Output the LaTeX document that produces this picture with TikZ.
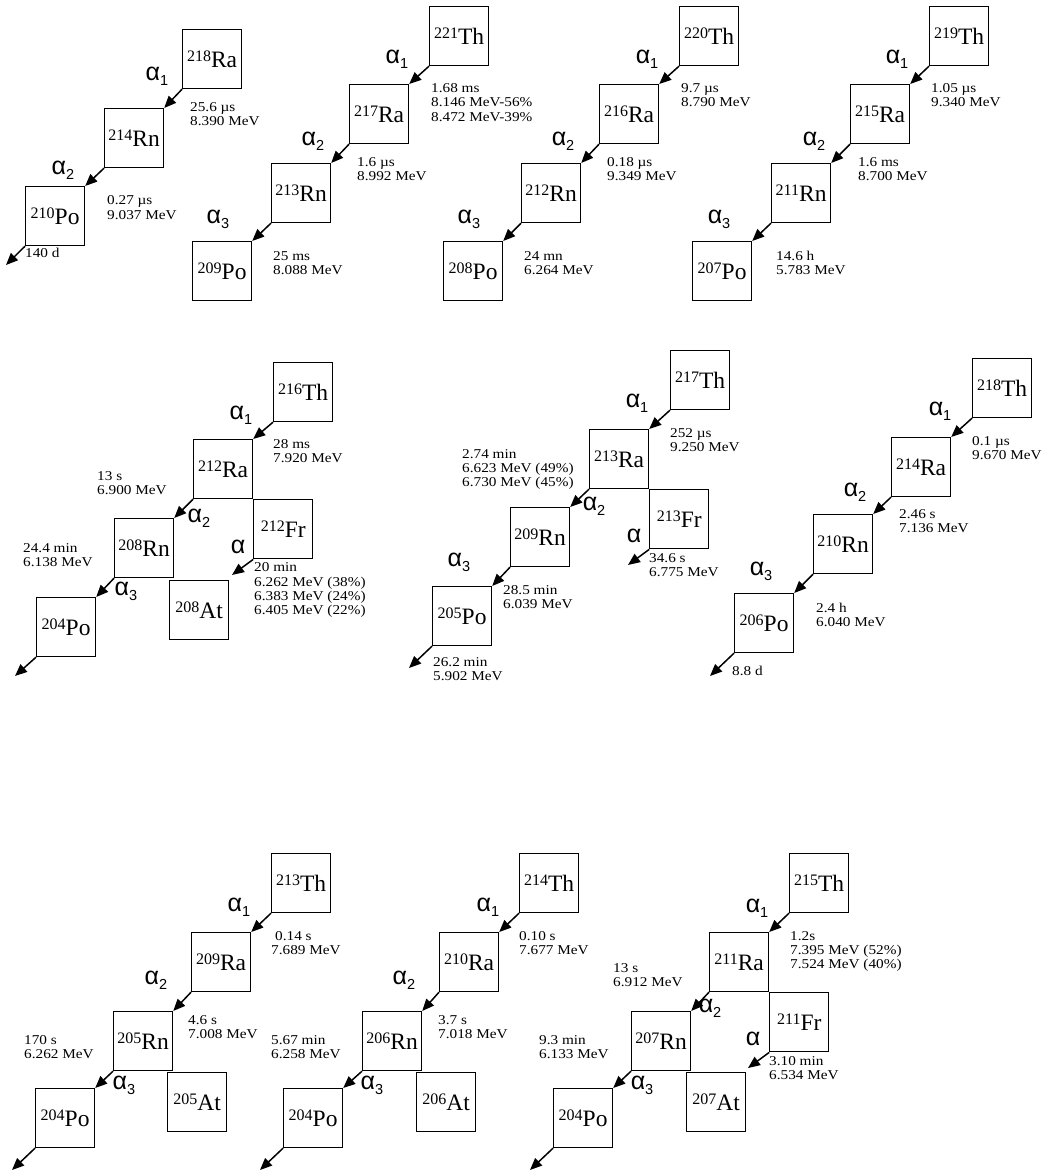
\documentclass[tikz,border=0pt]{standalone}
\usepackage{fontspec}
\setmainfont{Liberation Serif}
\newfontfamily\lblfont[FakeStretch=1.13]{Liberation Serif}
\newfontfamily\alfont{Liberation Sans}
\usetikzlibrary{arrows.meta}
\newcommand\nuc[2]{\raisebox{6pt}{\fontsize{16}{16}\selectfont #1}#2}
\newcommand\al[1]{{\fontsize{25}{25}\alfont α}\raisebox{-5pt}{\fontsize{14.5}{14.5}\alfont #1}}
\newcommand\tl[1]{\begin{tabular}[t]{@{}l@{}}#1\end{tabular}}
\tikzset{
 box/.style={draw, line width=1.2pt, minimum width=59pt, minimum height=59pt, inner sep=0pt, anchor=north west, font=\fontsize{23.5}{23.5}\selectfont},
 arr/.style={line width=1.5pt, -{Triangle[length=12pt,width=10pt]}},
 lab/.style={anchor=base west, inner sep=0pt, font=\lblfont\fontsize{13.5}{14.3}\selectfont},
 alp/.style={inner sep=0pt, anchor=center},
}
\begin{document}
\begin{tikzpicture}[x=1pt,y=-1pt]
\useasboundingbox[fill=white] (0,0) rectangle (1044,1174);
% ---------- Row 1, chain A
\node[box] (A1) at (182,29) {\nuc{218}{Ra}};
\node[box] (A2) at (104,108) {\nuc{214}{Rn}};
\node[box] (A3) at (25,186) {\nuc{210}{Po}};
\coordinate (A4) at (6,265);
\draw[arr] (A1.south west) -- (A2.north east);
\draw[arr] (A2.south west) -- (A3.north east);
\draw[arr] (A3.south west) -- (A4);
\node[alp] (Aa1) at (157,76) {\al{1}};
\node[alp] (Aa2) at (63,170) {\al{2}};
\node[lab] (At1) at (190,111.5) {\tl{25.6 µs\\8.390 MeV}};
\node[lab] (At2) at (107,205) {\tl{0.27 µs\\9.037 MeV}};
\node[lab] (At3) at (25,258) {140 d};
% ---------- Row 1, chain B
\node[box] (B1) at (429,6) {\nuc{221}{Th}};
\node[box] (B2) at (349,84) {\nuc{217}{Ra}};
\node[box] (B3) at (271,163) {\nuc{213}{Rn}};
\node[box] (B4) at (192,241) {\nuc{209}{Po}};
\draw[arr] (B1.south west) -- (B2.north east);
\draw[arr] (B2.south west) -- (B3.north east);
\draw[arr] (B3.south west) -- (B4.north east);
\node[alp] (Ba1) at (397,59) {\al{1}};
\node[alp] (Ba2) at (313,141) {\al{2}};
\node[alp] (Ba3) at (218,219) {\al{3}};
\node[lab] (Bt1) at (431,92.5) {\tl{1.68 ms\\8.146 MeV-56\%\\8.472 MeV-39\%}};
\node[lab] (Bt2) at (357,166.5) {\tl{1.6 µs\\8.992 MeV}};
\node[lab] (Bt3) at (273,260.5) {\tl{25 ms\\8.088 MeV}};
% ---------- Row 1, chain C
\node[box] (C1) at (679,6) {\nuc{220}{Th}};
\node[box] (C2) at (599,84) {\nuc{216}{Ra}};
\node[box] (C3) at (521,163) {\nuc{212}{Rn}};
\node[box] (C4) at (443,241) {\nuc{208}{Po}};
\draw[arr] (C1.south west) -- (C2.north east);
\draw[arr] (C2.south west) -- (C3.north east);
\draw[arr] (C3.south west) -- (C4.north east);
\node[alp] (Ca1) at (647,59) {\al{1}};
\node[alp] (Ca2) at (563,141) {\al{2}};
\node[alp] (Ca3) at (469,219) {\al{3}};
\node[lab] (Ct1) at (681,92.5) {\tl{9.7 µs\\8.790 MeV}};
\node[lab] (Ct2) at (607,166.5) {\tl{0.18 µs\\9.349 MeV}};
\node[lab] (Ct3) at (524,260.5) {\tl{24 mn\\6.264 MeV}};
% ---------- Row 1, chain D
\node[box] (D1) at (929,6) {\nuc{219}{Th}};
\node[box] (D2) at (850,84) {\nuc{215}{Ra}};
\node[box] (D3) at (771,163) {\nuc{211}{Rn}};
\node[box] (D4) at (692,241) {\nuc{207}{Po}};
\draw[arr] (D1.south west) -- (D2.north east);
\draw[arr] (D2.south west) -- (D3.north east);
\draw[arr] (D3.south west) -- (D4.north east);
\node[alp] (Da1) at (897,59) {\al{1}};
\node[alp] (Da2) at (814,141) {\al{2}};
\node[alp] (Da3) at (719,219) {\al{3}};
\node[lab] (Dt1) at (931,92.5) {\tl{1.05 µs\\9.340 MeV}};
\node[lab] (Dt2) at (858,166.5) {\tl{1.6 ms\\8.700 MeV}};
\node[lab] (Dt3) at (776,260.5) {\tl{14.6 h\\5.783 MeV}};
% ---------- Row 2, chain E
\node[box] (E1) at (273,362) {\nuc{216}{Th}};
\node[box] (E2) at (193,439) {\nuc{212}{Ra}};
\node[box] (EF) at (E2.south east) {\nuc{212}{Fr}};
\node[box] (E3) at (114,518) {\nuc{208}{Rn}};
\node[box] (EA) at (169,580) {\nuc{208}{At}};
\node[box] (E4) at (36,597) {\nuc{204}{Po}};
\coordinate (E5) at (15,676);
\coordinate (EF2) at (232,575);
\draw[arr] (E1.south west) -- (E2.north east);
\draw[arr] (E2.south west) -- (E3.north east);
\draw[arr] (E3.south west) -- (E4.north east);
\draw[arr] (E4.south west) -- (E5);
\draw[arr] (EF.south west) -- (EF2);
\node[alp] (Ea1) at (241,415) {\al{1}};
\node[alp] (Ea2) at (199,518) {\al{2}};
\node[alp] (Ea3) at (126,591) {\al{3}};
\node[alp] (Eaf) at (238,547) {\fontsize{25}{25}\alfont α};
\node[lab] (Et1) at (273,448.5) {\tl{28 ms\\7.920 MeV}};
\node[lab] (Et2) at (97,480) {\tl{13 s\\6.900 MeV}};
\node[lab] (Et3) at (254,571.7) {\tl{20 min\\6.262 MeV (38\%)\\6.383 MeV (24\%)\\6.405 MeV (22\%)}};
\node[lab] (Et4) at (23,552) {\tl{24.4 min\\6.138 MeV}};
% ---------- Row 2, chain F
\node[box] (F1) at (670,350) {\nuc{217}{Th}};
\node[box] (F2) at (589,429) {\nuc{213}{Ra}};
\node[box] (FF) at (F2.south east) {\nuc{213}{Fr}};
\node[box] (F3) at (510,507) {\nuc{209}{Rn}};
\node[box] (F4) at (432,586) {\nuc{205}{Po}};
\coordinate (F5) at (409,668);
\coordinate (FF2) at (628,565);
\draw[arr] (F1.south west) -- (F2.north east);
\draw[arr] (F2.south west) -- (F3.north east);
\draw[arr] (F3.south west) -- (F4.north east);
\draw[arr] (F4.south west) -- (F5);
\draw[arr] (FF.south west) -- (FF2);
\node[alp] (Fa1) at (637,403) {\al{1}};
\node[alp] (Fa2) at (594,506) {\al{2}};
\node[alp] (Fa3) at (459,562) {\al{3}};
\node[alp] (Faf) at (634,536) {\fontsize{25}{25}\alfont α};
\node[lab] (Ft1) at (670,437) {\tl{252 µs\\9.250 MeV}};
\node[lab] (Ft2) at (462,458) {\tl{2.74 min\\6.623 MeV (49\%)\\6.730 MeV (45\%)}};
\node[lab] (Ft3) at (649,562) {\tl{34.6 s\\6.775 MeV}};
\node[lab] (Ft4) at (503,594) {\tl{28.5 min\\6.039 MeV}};
\node[lab] (Ft5) at (433,666) {\tl{26.2 min\\5.902 MeV}};
% ---------- Row 2, chain G
\node[box] (G1) at (972,358) {\nuc{218}{Th}};
\node[box] (G2) at (891,437) {\nuc{214}{Ra}};
\node[box] (G3) at (813,514) {\nuc{210}{Rn}};
\node[box] (G4) at (734,593) {\nuc{206}{Po}};
\coordinate (G5) at (710,676);
\draw[arr] (G1.south west) -- (G2.north east);
\draw[arr] (G2.south west) -- (G3.north east);
\draw[arr] (G3.south west) -- (G4.north east);
\draw[arr] (G4.south west) -- (G5);
\node[alp] (Ga1) at (940,411) {\al{1}};
\node[alp] (Ga2) at (855,492) {\al{2}};
\node[alp] (Ga3) at (761,571) {\al{3}};
\node[lab] (Gt1) at (972,445) {\tl{0.1 µs\\9.670 MeV}};
\node[lab] (Gt2) at (899,518) {\tl{2.46 s\\7.136 MeV}};
\node[lab] (Gt3) at (816,612) {\tl{2.4 h\\6.040 MeV}};
\node[lab] (Gt4) at (732,675) {8.8 d};
% ---------- Row 3, chain H
\node[box] (H1) at (271,853) {\nuc{213}{Th}};
\node[box] (H2) at (191,932) {\nuc{209}{Ra}};
\node[box] (H3) at (113,1011) {\nuc{205}{Rn}};
\node[box] (HA) at (167,1072) {\nuc{205}{At}};
\node[box] (H4) at (35,1088) {\nuc{204}{Po}};
\coordinate (H5) at (12,1170);
\draw[arr] (H1.south west) -- (H2.north east);
\draw[arr] (H2.south west) -- (H3.north east);
\draw[arr] (H3.south west) -- (H4.north east);
\draw[arr] (H4.south west) -- (H5);
\node[alp] (Ha1) at (239,907) {\al{1}};
\node[alp] (Ha2) at (156,980) {\al{2}};
\node[alp] (Ha3) at (124,1085) {\al{3}};
\node[lab] (Ht1) at (271,940) {\tl{\hspace{4pt}0.14 s\\7.689 MeV}};
\node[lab] (Ht2) at (188,1024) {\tl{4.6 s\\7.008 MeV}};
\node[lab] (Ht3) at (24,1044) {\tl{170 s\\6.262 MeV}};
% ---------- Row 3, chain I
\node[box] (I1) at (519,853) {\nuc{214}{Th}};
\node[box] (I2) at (439,932) {\nuc{210}{Ra}};
\node[box] (I3) at (362,1011) {\nuc{206}{Rn}};
\node[box] (IA) at (416,1072) {\nuc{206}{At}};
\node[box] (I4) at (283,1088) {\nuc{204}{Po}};
\coordinate (I5) at (260,1170);
\draw[arr] (I1.south west) -- (I2.north east);
\draw[arr] (I2.south west) -- (I3.north east);
\draw[arr] (I3.south west) -- (I4.north east);
\draw[arr] (I4.south west) -- (I5);
\node[alp] (Ia1) at (488,907) {\al{1}};
\node[alp] (Ia2) at (404,980) {\al{2}};
\node[alp] (Ia3) at (372,1085) {\al{3}};
\node[lab] (It1) at (519,940) {\tl{0.10 s\\7.677 MeV}};
\node[lab] (It2) at (438,1024) {\tl{3.7 s\\7.018 MeV}};
\node[lab] (It3) at (271,1044) {\tl{5.67 min\\6.258 MeV}};
% ---------- Row 3, chain J
\node[box] (J1) at (789,853) {\nuc{215}{Th}};
\node[box] (J2) at (709,932) {\nuc{211}{Ra}};
\node[box] (JF) at (J2.south east) {\nuc{211}{Fr}};
\node[box] (J3) at (631,1011) {\nuc{207}{Rn}};
\node[box] (JA) at (686,1072) {\nuc{207}{At}};
\node[box] (J4) at (553,1088) {\nuc{204}{Po}};
\coordinate (J5) at (530,1170);
\coordinate (JF2) at (748,1068);
\draw[arr] (J1.south west) -- (J2.north east);
\draw[arr] (J2.south west) -- (J3.north east);
\draw[arr] (J3.south west) -- (J4.north east);
\draw[arr] (J4.south west) -- (J5);
\draw[arr] (JF.south west) -- (JF2);
\node[alp] (Ja1) at (757,908) {\al{1}};
\node[alp] (Ja2) at (710,1008) {\al{2}};
\node[alp] (Ja3) at (642,1085) {\al{3}};
\node[alp] (Jaf) at (753,1039) {\fontsize{25}{25}\alfont α};
\node[lab] (Jt1) at (790,940) {\tl{1.2s\\7.395 MeV (52\%)\\7.524 MeV (40\%)}};
\node[lab] (Jt2) at (613,972) {\tl{13 s\\6.912 MeV}};
\node[lab] (Jt3) at (769,1065) {\tl{3.10 min\\6.534 MeV}};
\node[lab] (Jt4) at (539,1044) {\tl{9.3 min\\6.133 MeV}};
\end{tikzpicture}
\end{document}
